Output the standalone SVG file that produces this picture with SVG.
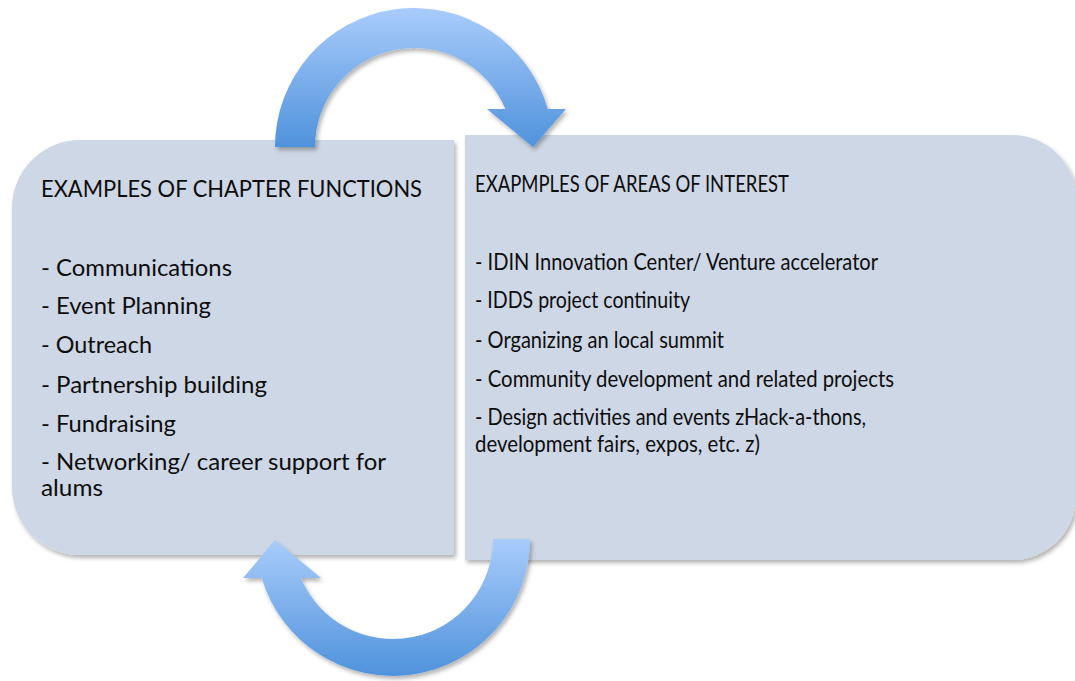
<svg xmlns="http://www.w3.org/2000/svg" width="1075" height="681" viewBox="0 0 1075 681">
<defs>
<style>
.box{fill:#cdd7e5;filter:url(#sh)}
.t{font-family:Lato,"Open Sans","Liberation Sans",sans-serif;font-size:23px;fill:#0d0d0d}
.arrow{filter:url(#sh)}
</style>
<filter id="sh" x="-10%" y="-10%" width="125%" height="125%">
<feDropShadow dx="2" dy="3" stdDeviation="2" flood-color="#000" flood-opacity="0.3"/>
</filter>
<linearGradient id="g1" x1="0" y1="0" x2="0" y2="1">
<stop offset="0" stop-color="#a9ccfb"/>
<stop offset="1" stop-color="#4f92dc"/>
</linearGradient>
</defs>
<rect width="1075" height="681" fill="#fff"/>
<g id="left-box">
<path class="box" d="M80,140 H454 V555 H80 A68 68 0 0 1 12,487 V208 A68 68 0 0 1 80,140 Z"/>
<text class="t" x="41" y="197" textLength="381" lengthAdjust="spacingAndGlyphs">EXAMPLES OF CHAPTER FUNCTIONS</text>
<text class="t" x="41" y="276" textLength="191" lengthAdjust="spacingAndGlyphs">- Communications</text>
<text class="t" x="41" y="314" textLength="170" lengthAdjust="spacingAndGlyphs">- Event Planning</text>
<text class="t" x="41" y="353" textLength="111" lengthAdjust="spacingAndGlyphs">- Outreach</text>
<text class="t" x="41" y="393" textLength="226" lengthAdjust="spacingAndGlyphs">- Partnership building</text>
<text class="t" x="41" y="432" textLength="135" lengthAdjust="spacingAndGlyphs">- Fundraising</text>
<text class="t" x="41" y="470" textLength="345" lengthAdjust="spacingAndGlyphs">- Networking/ career support for</text>
<text class="t" x="41" y="496" textLength="62" lengthAdjust="spacingAndGlyphs">alums</text>
</g>
<g id="right-box">
<path class="box" d="M465,135 H1012 A64 64 0 0 1 1076,199 V496 A64 64 0 0 1 1012,560 H465 Z"/>
<text class="t" x="475" y="192" textLength="314" lengthAdjust="spacingAndGlyphs">EXAPMPLES OF AREAS OF INTEREST</text>
<text class="t" x="475" y="270" textLength="403" lengthAdjust="spacingAndGlyphs">- IDIN Innovation Center/ Venture accelerator</text>
<text class="t" x="475" y="308" textLength="215" lengthAdjust="spacingAndGlyphs">- IDDS project continuity</text>
<text class="t" x="475" y="348" textLength="249" lengthAdjust="spacingAndGlyphs">- Organizing an local summit</text>
<text class="t" x="475" y="387" textLength="419" lengthAdjust="spacingAndGlyphs">- Community development and related projects</text>
<text class="t" x="475" y="425" textLength="391" lengthAdjust="spacingAndGlyphs">- Design activities and events zHack-a-thons,</text>
<text class="t" x="475" y="452" textLength="285" lengthAdjust="spacingAndGlyphs">development fairs, expos, etc. z)</text>
</g>
<g id="connectors">
<path id="arrow-top" class="arrow" fill="url(#g1)" d="M275,147 A139 139 0 0 1 547.7,109 L566,109 L533,147 L487,109 L505.4,109 A99 99 0 0 0 315,147 Z"/>
<path id="arrow-bottom" class="arrow" fill="url(#g1)" d="M530,539 A137 137 0 0 1 261.7,578 L243,578 L275,540 L321,578 L300.9,578 A100 100 0 0 0 493,539 Z"/>
</g>
</svg>
